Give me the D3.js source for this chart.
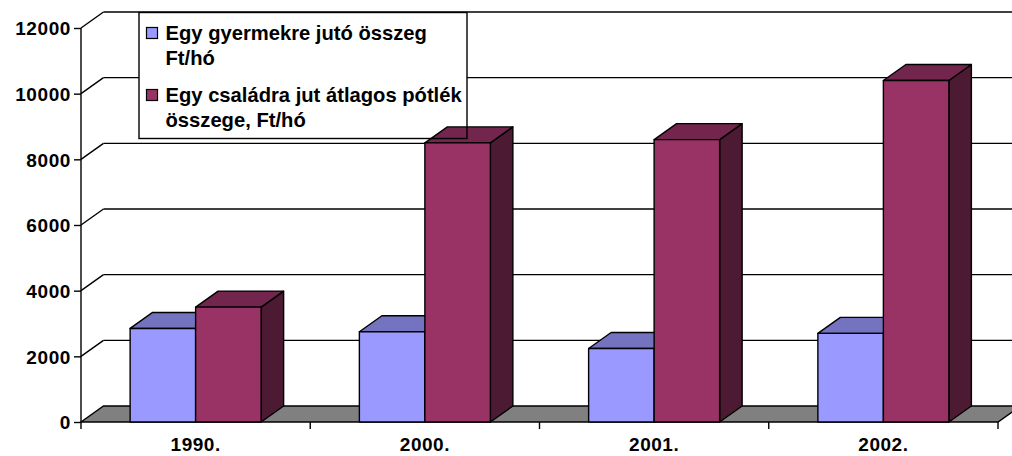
<!DOCTYPE html>
<html>
<head>
<meta charset="utf-8">
<script src="https://cdn.jsdelivr.net/npm/d3@7"></script>
<style>
    body { margin: 0; background: #fff; }
    svg { display: block; font-family: Arial, "Liberation Sans", sans-serif; }
</style>
</head>
<body>
<div id="chart"></div>
<script>
// Családi pótlék - 3D oszlopdiagram
const categories = ['1990.', '2000.', '2001.', '2002.'];
const seriesNames = ['Egy gyermekre jutó összeg Ft/hó', 'Egy családra jut átlagos pótlék összege, Ft/hó'];
const perChild = [2850, 2750, 2240, 2700];
const perFamily = [3500, 8500, 8600, 10400];
const yTicks = [0, 2000, 4000, 6000, 8000, 10000, 12000];

const legendLines = [
    ['Egy gyermekre jutó összeg', 'Ft/hó'],
    ['Egy családra jut átlagos pótlék', 'összege, Ft/hó']
];

const colors = [
    { front: '#9999ff', top: '#7373bf', side: '#4d4d80' },
    { front: '#993366', top: '#73264d', side: '#4d1a33' }
];

const W = 1012, H = 456;
const DX = 22.5, DY = -16;   // depth offset of the 3D box

const svg = d3.select('#chart')
    .append('svg')
    .attr('width', W)
    .attr('height', H);

const x = d3.scaleBand()
    .domain(categories)
    .range([81, 998])
    .paddingInner(0)
    .paddingOuter(0);

const xs = d3.scaleBand()
    .domain([0, 1])
    .range([0, x.bandwidth()])
    .paddingInner(0)
    .paddingOuter(0.75);

const y = d3.scaleLinear()
    .domain([0, 12000])
    .range([422, 28]);

const x0 = x.range()[0], x1 = x.range()[1];

// gridlines on back wall + left wall
const grid = svg.append('g').attr('stroke', '#000').attr('stroke-width', 1.4).attr('fill', 'none');
yTicks.filter(d => d > 0).forEach(t => {
    grid.append('line')
        .attr('x1', x0 + DX).attr('x2', x1 + DX)
        .attr('y1', y(t) + DY).attr('y2', y(t) + DY);
    grid.append('line')
        .attr('x1', x0).attr('x2', x0 + DX)
        .attr('y1', y(t)).attr('y2', y(t) + DY);
});

// floor
svg.append('path')
    .attr('d', `M${x0},${y(0)}L${x1},${y(0)}L${x1 + DX},${y(0) + DY}L${x0 + DX},${y(0) + DY}Z`)
    .attr('fill', '#808080')
    .attr('stroke', '#000')
    .attr('stroke-width', 1.4);

// legend background (under bars)
const lg = { x: 139, y: 12.5, w: 328, h: 126 };
svg.append('rect')
    .attr('x', lg.x).attr('y', lg.y)
    .attr('width', lg.w).attr('height', lg.h)
    .attr('fill', '#fff');

// bars
const bars = svg.append('g').attr('stroke', '#000').attr('stroke-width', 1.4).attr('stroke-linejoin', 'round');
categories.forEach((c, i) => {
    [perChild[i], perFamily[i]].forEach((v, s) => {
        const bx = x(c) + xs(s);
        const bw = xs.bandwidth();
        const yt = y(v), yb = y(0);
        const col = colors[s];
        // side
        bars.append('path')
            .attr('d', `M${bx + bw},${yb}L${bx + bw + DX},${yb + DY}L${bx + bw + DX},${yt + DY}L${bx + bw},${yt}Z`)
            .attr('fill', col.side);
        // top
        bars.append('path')
            .attr('d', `M${bx},${yt}L${bx + DX},${yt + DY}L${bx + bw + DX},${yt + DY}L${bx + bw},${yt}Z`)
            .attr('fill', col.top);
        // front
        bars.append('rect')
            .attr('x', bx).attr('y', yt)
            .attr('width', bw).attr('height', yb - yt)
            .attr('fill', col.front);
    });
});

// y axis
const yAxis = svg.append('g')
    .attr('transform', `translate(${x0},0)`)
    .call(d3.axisLeft(y).tickValues(yTicks).tickSize(7).tickPadding(3).tickFormat(d3.format('d')));
yAxis.select('.domain').attr('stroke', '#000').attr('stroke-width', 1.4).attr('d', `M0,${y(12000)}V${y(0)}`);
yAxis.selectAll('.tick line').attr('stroke', '#000').attr('stroke-width', 1.4);
yAxis.selectAll('text')
    .attr('fill', '#000')
    .style('font-size', '19px')
    .style('font-weight', 'bold')
    .style('letter-spacing', '0.6px')
    .attr('dy', '0.36em');

// x axis
const xAxis = svg.append('g')
    .attr('transform', `translate(0,${y(0)})`)
    .call(d3.axisBottom(x).tickSize(0).tickPadding(16));
xAxis.select('.domain').remove();
xAxis.selectAll('text')
    .attr('fill', '#000')
    .style('font-size', '19px')
    .style('font-weight', 'bold')
    .style('letter-spacing', '0.5px');

const xTickPos = categories.map(c => x(c)).concat([x1]);
svg.append('g').selectAll('line')
    .data(xTickPos)
    .enter()
    .append('line')
    .attr('x1', d => d).attr('x2', d => d)
    .attr('y1', y(0)).attr('y2', y(0) + 7)
    .attr('stroke', '#000')
    .attr('stroke-width', 1.4);

// legend frame and entries
svg.append('rect')
    .attr('x', lg.x).attr('y', lg.y)
    .attr('width', lg.w).attr('height', lg.h)
    .attr('fill', 'none')
    .attr('stroke', '#000')
    .attr('stroke-width', 1.4);

const legendRowY = [40, 102];
legendLines.forEach((lines, i) => {
    svg.append('rect')
        .attr('x', 146.5).attr('y', legendRowY[i] - 12.5)
        .attr('width', 11).attr('height', 11)
        .attr('fill', colors[i].front)
        .attr('stroke', '#000')
        .attr('stroke-width', 1.2);
    lines.forEach((t, k) => {
        svg.append('text')
            .attr('x', 165.5)
            .attr('y', legendRowY[i] + k * 24.5)
            .style('font-size', '20.2px')
            .style('font-weight', 'bold')
            .attr('fill', '#000')
            .text(t);
    });
});
</script>
</body>
</html>
